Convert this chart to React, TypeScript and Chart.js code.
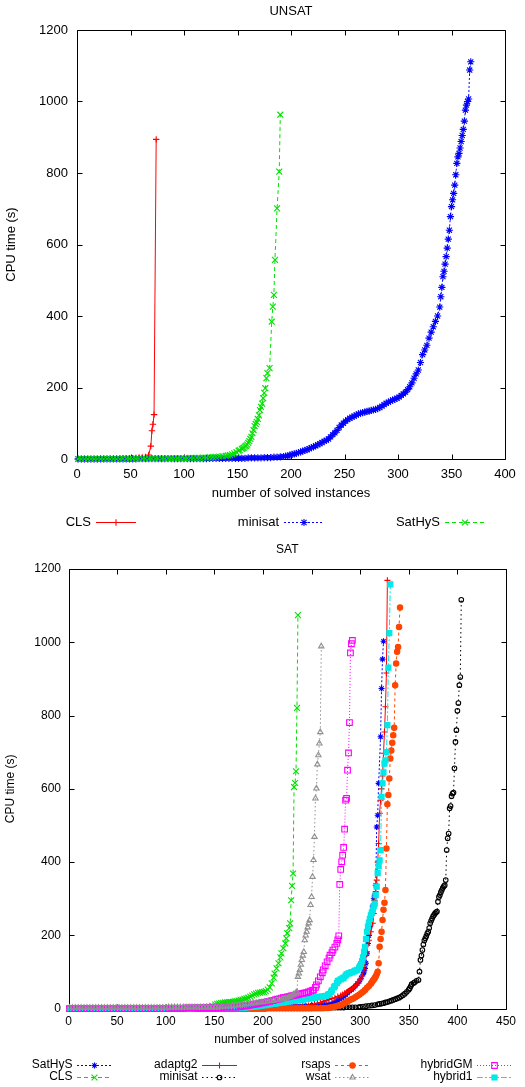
import React, { useEffect, useRef } from "react";
import { Chart, registerables } from "chart.js";

Chart.register(...registerables);

const FONT_FAMILY = '"Liberation Sans", Arial, Helvetica, sans-serif';

type Pt = [number, number];

// ---------------- tick labels ----------------
const unsatXTicks = [0, 50, 100, 150, 200, 250, 300, 350, 400];
const satXTicks = [0, 50, 100, 150, 200, 250, 300, 350, 400, 450];
const yTicks = [0, 200, 400, 600, 800, 1000, 1200];

// ---------------- UNSAT data ([solved instances, CPU time]) ----------------
const unsatCls: Pt[] = [
  [1, 0], [4, 0], [7, 0], [10, 0], [13, 0], [16, 0], [19, 0], [22, 1], [25, 1], [28, 1], [31, 1], [34, 1],
  [37, 1], [40, 1], [43, 2], [46, 2], [49, 2], [52, 2], [55, 3], [58, 4], [61, 4], [64, 6],
  [67, 11], [69, 36], [70, 79], [71, 97], [72, 124], [74, 894],
];

const unsatMinisat: Pt[] = [
  [1, 0], [4, 0], [7, 0], [10, 0], [13, 0], [16, 0], [19, 0], [22, 0], [25, 0], [28, 0], [31, 0], [34, 0],
  [37, 0], [40, 0], [43, 0], [46, 0], [49, 0], [52, 0], [55, 0],
  [58, 1], [61, 1], [64, 1], [67, 1], [70, 1], [73, 1], [76, 1], [79, 1], [82, 1], [85, 1], [88, 1], [91, 1],
  [94, 1], [97, 1], [100, 1], [103, 1], [106, 1], [109, 1], [112, 1], [115, 1], [118, 1], [121, 1],
  [124, 2], [127, 2], [130, 2], [133, 2], [136, 2], [139, 2], [142, 2], [145, 2], [148, 2], [151, 2], [154, 2],
  [157, 2], [160, 3], [163, 3], [166, 3], [169, 3], [172, 3], [175, 4], [178, 4], [181, 4], [184, 5], [187, 5],
  [190, 6], [193, 7], [195, 8], [197, 9], [199, 11], [201, 13], [203, 14], [205, 16], [207, 18], [209, 20],
  [211, 22], [213, 24], [215, 26], [217, 29], [219, 32], [221, 34], [223, 37], [225, 40], [227, 43], [229, 46],
  [231, 50], [233, 52], [235, 56], [237, 62], [239, 68], [241, 73], [243, 80], [245, 88], [247, 95], [249, 100],
  [251, 106], [253, 110], [255, 114], [257, 117], [259, 120], [261, 123], [263, 126], [265, 128], [267, 130],
  [269, 131], [271, 133], [273, 134], [275, 136], [277, 137], [279, 139], [281, 141], [283, 144], [285, 148],
  [287, 152], [289, 156], [291, 159], [293, 162], [295, 165], [297, 167], [299, 170], [301, 173], [303, 178],
  [305, 182], [307, 187], [309, 194], [311, 202], [313, 213], [315, 226], [317, 238], [319, 249], [321, 270],
  [323, 292], [325, 305], [327, 318], [329, 338], [331, 355], [333, 370], [335, 385], [337, 400], [339, 425],
  [340, 454], [341, 480], [342, 510], [343, 525], [344, 545], [345, 566], [346, 590], [347, 615], [348, 640],
  [349, 678], [350, 706], [351, 725], [352, 743], [353, 766], [354, 795], [355, 827], [356, 845], [357, 855],
  [358, 870], [359, 888], [360, 905], [361, 922], [362, 945], [363, 976], [364, 990], [365, 1000], [366, 1007],
  [367, 1088], [368, 1111],
];

const unsatSathys: Pt[] = [
  [1, 0], [4, 0], [7, 0], [10, 0], [13, 0], [16, 0], [19, 0], [22, 0], [25, 0], [28, 0], [31, 0], [34, 0],
  [37, 0], [40, 0], [43, 1], [46, 1], [49, 1], [52, 1], [55, 1], [58, 1], [61, 1], [64, 1], [67, 1], [70, 1],
  [73, 1], [76, 1], [79, 1], [82, 1], [85, 2], [88, 2], [91, 2], [94, 2], [97, 2], [100, 2], [103, 2], [106, 3],
  [109, 3], [112, 3], [115, 3], [118, 4], [121, 4], [124, 5], [127, 5], [130, 6], [133, 7], [136, 8], [139, 9],
  [141, 10], [143, 11], [145, 13], [147, 16], [149, 19], [151, 23], [152, 25], [154, 28], [155, 30], [156, 32],
  [157, 35], [158, 37], [159, 40], [160, 45], [161, 50], [162, 56], [163, 62], [164, 72], [165, 81], [166, 92],
  [167, 98], [168, 104], [169, 112], [170, 122], [171, 137], [172, 146], [173, 155], [174, 170], [175, 185],
  [176, 198], [177, 226], [178, 240], [180, 254], [182, 384], [183, 426], [184, 459], [185, 557], [187, 701],
  [189, 804], [190, 963],
];

// ---------------- SAT data ----------------
const satSathys: Pt[] = [
  [1, 0], [4, 0], [7, 0], [10, 0], [13, 0], [16, 0], [19, 0], [22, 0], [25, 0], [28, 0], [31, 0], [34, 0],
  [37, 0], [40, 0], [43, 0], [46, 0], [49, 0], [52, 0], [55, 0], [58, 0], [61, 0], [64, 0], [67, 0],
  [70, 1], [73, 1], [76, 1], [79, 1], [82, 1], [85, 1], [88, 1], [91, 1], [94, 1], [97, 1], [100, 1], [103, 1],
  [106, 1], [109, 1], [112, 1], [115, 1], [118, 1], [121, 1], [124, 1], [127, 1], [130, 1], [133, 1], [136, 1],
  [139, 1], [142, 1], [145, 1], [148, 1], [151, 1], [154, 1], [157, 1], [160, 1], [163, 1], [166, 1], [169, 1],
  [172, 1], [175, 1], [178, 1], [181, 2], [184, 2], [187, 2], [190, 2], [193, 2], [196, 2], [199, 2],
  [201, 2], [203, 2], [205, 2], [207, 2], [209, 2], [211, 3], [213, 3], [215, 3], [217, 3], [219, 3], [221, 4],
  [223, 4], [225, 4], [227, 4], [229, 4], [231, 5], [233, 5], [235, 5], [237, 5], [239, 5], [241, 6], [243, 6],
  [245, 6], [247, 7], [249, 7], [251, 8], [253, 8], [255, 8], [257, 9], [259, 9], [261, 10], [263, 10],
  [265, 10], [267, 11], [269, 11], [271, 13], [273, 16], [275, 19], [277, 23], [279, 27], [281, 30], [283, 33],
  [285, 38], [287, 43], [289, 48], [291, 52], [293, 56], [295, 62], [297, 68], [299, 74], [301, 83], [303, 94],
  [304, 100], [305, 110], [306, 124], [307, 150], [308, 178], [309, 200], [310, 224], [311, 245], [312, 260],
  [313, 280], [314, 300], [315, 310], [316, 337], [317, 496], [318, 528], [319, 615], [321, 742], [322, 874],
  [323, 954], [324, 1003],
];

const satCls: Pt[] = [
  [1, 0], [4, 0], [7, 0], [10, 0], [13, 0], [16, 0], [19, 0], [22, 0], [25, 0], [28, 0], [31, 0], [34, 0],
  [37, 0], [40, 0], [43, 0], [46, 0], [49, 0], [52, 1], [55, 1], [58, 1], [61, 1], [64, 1], [67, 1], [70, 1],
  [73, 1], [76, 1], [79, 1], [82, 1], [85, 1], [88, 1], [91, 1], [94, 1], [97, 1], [100, 1], [103, 2], [106, 2],
  [109, 2], [112, 2], [115, 2], [118, 2], [121, 2], [124, 2], [127, 2], [130, 3], [133, 3], [136, 3], [139, 4],
  [142, 5], [145, 6], [148, 8], [151, 11], [153, 13], [155, 14], [157, 15], [159, 16], [161, 17], [163, 17],
  [165, 18], [167, 18], [169, 19], [171, 20], [173, 21], [175, 22], [177, 24], [179, 25], [181, 27], [183, 28],
  [185, 30], [187, 33], [189, 36], [191, 39], [193, 41], [195, 43], [197, 44], [199, 45], [201, 46], [203, 48],
  [205, 52], [207, 58], [209, 69], [211, 85], [212, 96], [214, 110], [216, 124], [218, 140], [219, 151],
  [221, 165], [223, 178], [224, 192], [225, 206], [227, 220], [228, 233], [229, 296], [230, 335], [231, 369],
  [232, 605], [233, 616], [234, 648], [235, 821], [236, 1074],
];

const satAdaptg2: Pt[] = [
  [1, 0], [4, 0], [7, 0], [10, 0], [13, 0], [16, 0], [19, 0], [22, 0], [25, 0], [28, 0], [31, 0], [34, 0],
  [37, 0], [40, 0], [43, 0], [46, 0], [49, 0], [52, 0], [55, 0], [58, 0], [61, 0], [64, 0], [67, 0], [70, 0],
  [73, 0], [76, 0], [79, 0], [82, 0], [85, 0], [88, 0], [91, 0], [94, 0], [97, 0], [100, 0], [103, 1], [106, 1],
  [109, 1], [112, 1], [115, 1], [118, 1], [121, 1], [124, 1], [127, 1], [130, 1], [133, 1], [136, 1], [139, 1],
  [142, 1], [145, 1], [148, 1], [151, 1], [154, 1], [157, 1], [160, 1], [163, 1], [166, 1], [169, 1], [172, 1],
  [175, 1], [178, 1], [181, 1], [184, 1], [187, 1], [190, 1], [193, 2], [196, 2], [199, 2], [202, 2], [205, 2],
  [208, 2], [211, 2], [214, 2], [217, 2], [220, 2], [223, 3], [226, 3], [229, 4], [232, 4], [235, 5], [238, 6],
  [241, 7], [244, 8], [247, 9], [250, 11], [253, 13], [256, 15], [259, 17], [262, 20], [265, 22], [268, 25],
  [271, 28], [274, 30], [277, 33], [280, 36], [282, 39], [284, 42], [286, 45], [288, 48], [290, 52], [292, 56],
  [294, 60], [296, 65], [298, 74], [300, 80], [302, 90], [304, 108], [305, 124], [307, 155], [309, 187],
  [311, 210], [313, 233], [314, 260], [315, 296], [316, 320], [317, 351], [318, 400], [319, 451], [320, 533],
  [321, 569], [322, 600], [323, 635], [324, 697], [325, 755], [326, 824], [327, 916], [328, 1169],
];

const satMinisat: Pt[] = [
  [1, 0], [4, 0], [7, 0], [10, 0], [13, 0], [16, 0], [19, 0], [22, 0], [25, 0], [28, 0], [31, 0], [34, 0],
  [37, 0], [40, 0], [43, 0], [46, 0], [49, 0], [52, 0], [55, 0], [58, 0], [61, 0], [64, 0], [67, 0], [70, 0],
  [73, 0], [76, 0], [79, 0], [82, 0], [85, 0], [88, 0], [91, 0], [94, 0], [97, 0], [100, 0], [103, 0], [106, 0],
  [109, 0], [112, 0], [115, 0], [118, 0], [121, 0], [124, 0], [127, 0], [130, 0], [133, 0], [136, 0], [139, 0],
  [142, 0], [145, 0], [148, 0], [151, 0], [154, 1], [157, 1], [160, 1], [163, 1], [166, 1], [169, 1], [172, 1],
  [175, 1], [178, 1], [181, 1], [184, 1], [187, 1], [190, 1], [193, 1], [196, 1], [199, 1], [202, 1], [205, 1],
  [208, 1], [211, 1], [214, 1], [217, 1], [220, 1], [223, 1], [226, 1], [229, 1], [232, 1], [235, 1], [238, 1],
  [241, 1], [244, 1], [247, 1], [250, 1], [253, 2], [256, 2], [259, 2], [262, 2], [265, 2], [268, 2], [271, 3],
  [274, 3], [277, 3], [280, 3], [283, 3], [286, 4], [289, 4], [292, 4], [295, 4], [298, 4], [300, 5],
  [303, 6], [306, 7], [309, 8], [312, 9], [315, 10], [318, 12], [320, 13], [322, 14], [324, 15], [326, 17],
  [328, 18], [330, 20], [332, 22], [334, 24], [336, 26], [338, 28], [340, 30], [342, 33], [344, 37], [346, 41],
  [348, 46], [350, 52], [351, 56], [352, 61], [353, 67], [355, 70], [356, 72], [358, 76], [360, 78], [361, 101],
  [362, 133], [363, 145], [364, 160], [365, 175], [366, 186], [367, 192], [368, 198], [369, 205], [370, 210],
  [371, 220], [372, 233], [373, 240], [374, 246], [375, 252], [376, 256], [377, 260], [378, 263], [379, 265],
  [380, 292], [381, 305], [382, 310], [383, 318], [384, 324], [385, 330], [386, 334], [387, 337], [388, 351],
  [389, 433], [390, 465], [391, 478], [392, 547], [393, 553], [394, 580], [395, 587], [396, 590], [397, 656],
  [398, 728], [399, 760], [400, 813], [401, 834], [402, 883], [403, 905], [404, 1116],
];

const satRsaps: Pt[] = [
  [1, 0], [4, 0], [7, 0], [10, 0], [13, 0], [16, 0], [19, 0], [22, 0], [25, 0], [28, 0], [31, 0], [34, 0],
  [37, 0], [40, 0], [43, 0], [46, 0], [49, 0], [52, 0], [55, 0], [58, 0], [61, 0], [64, 0], [67, 0], [70, 0],
  [73, 0], [76, 0], [79, 0], [82, 0], [85, 0], [88, 0], [91, 0], [94, 0], [97, 0], [100, 0], [103, 0], [106, 0],
  [109, 0], [112, 0], [115, 0], [118, 0], [121, 0], [124, 0], [127, 0], [130, 0], [133, 0], [136, 0], [139, 0],
  [142, 0], [145, 0], [148, 0], [151, 0], [154, 0], [157, 0], [160, 0], [163, 0], [166, 0], [169, 0], [172, 0],
  [175, 0], [178, 0], [181, 0], [184, 0], [187, 0], [190, 0], [193, 0], [196, 0], [199, 0], [202, 0], [205, 1],
  [208, 1], [211, 1], [214, 1], [217, 1], [220, 1], [223, 1], [226, 1], [229, 1], [232, 1], [235, 1], [238, 1],
  [241, 1], [244, 1], [247, 1], [250, 1], [253, 1], [256, 1], [259, 1], [262, 1], [265, 2], [267, 2], [269, 3],
  [271, 4], [273, 5], [275, 6], [277, 8], [279, 9], [281, 11], [283, 14], [285, 17], [287, 20], [289, 23],
  [291, 26], [293, 28], [295, 31], [297, 35], [299, 38], [301, 42], [303, 46], [305, 51], [307, 57], [309, 62],
  [311, 68], [312, 72], [313, 76], [314, 80], [315, 84], [316, 88], [317, 94], [318, 101], [319, 124],
  [320, 169], [321, 190], [322, 210], [323, 242], [324, 270], [325, 289], [326, 324], [327, 437], [328, 558],
  [329, 583], [330, 628], [331, 683], [332, 705], [333, 726], [334, 746], [335, 767], [336, 883], [337, 942],
  [338, 974], [339, 987], [340, 1042], [341, 1095],
];

const satWsat: Pt[] = [
  [1, 3], [4, 3], [7, 3], [10, 3], [13, 3], [16, 3], [19, 3], [22, 3], [25, 3], [28, 3], [31, 3], [34, 3],
  [37, 3], [40, 3], [43, 3], [46, 3], [49, 3], [52, 3], [55, 3], [58, 3], [61, 3], [64, 3], [67, 3], [70, 3],
  [73, 3], [76, 3], [79, 3], [82, 3], [85, 3], [88, 3], [91, 3], [94, 3], [97, 3], [100, 3], [103, 4], [106, 4],
  [109, 4], [112, 4], [115, 4], [118, 4], [121, 4], [124, 4], [127, 4], [130, 4], [133, 4], [136, 4], [139, 4],
  [142, 4], [145, 4], [148, 4], [151, 4], [154, 5], [157, 5], [160, 6], [163, 7], [166, 7], [169, 8], [172, 9],
  [175, 10], [178, 11], [181, 12], [184, 13], [187, 14], [190, 15], [193, 16], [196, 17], [199, 18], [202, 19],
  [205, 20], [208, 21], [211, 22], [214, 24], [217, 25], [220, 26], [222, 27], [224, 28], [226, 31], [228, 33],
  [230, 36], [232, 40], [234, 44], [235, 46], [236, 87], [237, 96], [238, 106], [239, 120], [240, 133],
  [241, 145], [242, 155], [243, 187], [244, 200], [245, 210], [246, 222], [247, 233], [248, 242], [249, 283],
  [250, 305], [251, 360], [252, 406], [253, 469], [254, 574], [255, 601], [256, 667], [257, 692], [258, 724],
  [259, 755], [260, 989],
];

const satHybridGM: Pt[] = [
  [1, 0], [4, 0], [7, 0], [10, 0], [13, 0], [16, 0], [19, 0], [22, 0], [25, 0], [28, 0], [31, 0], [34, 0],
  [37, 0], [40, 0], [43, 0], [46, 0], [49, 0], [52, 0], [55, 0], [58, 0], [61, 0], [64, 0], [67, 0], [70, 0],
  [73, 0], [76, 0], [79, 0], [82, 0], [85, 0], [88, 0], [91, 0], [94, 0], [97, 0], [100, 0], [103, 1], [106, 1],
  [109, 1], [112, 1], [115, 1], [118, 1], [121, 2], [124, 2], [127, 2], [130, 2], [133, 2], [136, 2], [139, 3],
  [142, 3], [145, 3], [148, 3], [151, 3], [154, 3], [157, 3], [160, 4], [163, 4], [166, 4], [169, 4], [172, 4],
  [175, 5], [177, 6], [179, 7], [181, 8], [183, 8], [185, 9], [187, 10], [189, 11], [191, 12], [193, 13],
  [195, 13], [197, 15], [199, 16], [201, 17], [203, 18], [205, 19], [207, 20], [209, 22], [211, 23], [213, 25],
  [215, 26], [217, 27], [219, 29], [221, 30], [223, 31], [225, 32], [227, 33], [229, 35], [231, 36], [233, 37],
  [235, 38], [237, 39], [239, 41], [241, 42], [243, 43], [245, 44], [247, 46], [249, 48], [251, 50], [252, 51],
  [254, 58], [255, 65], [257, 76], [259, 87], [261, 98], [262, 106], [264, 117], [266, 128], [268, 138],
  [269, 146], [271, 153], [272, 160], [274, 168], [276, 178], [277, 188], [278, 199], [279, 339], [280, 380],
  [281, 401], [282, 419], [283, 440], [284, 490], [285, 569], [286, 574], [287, 651], [288, 698], [289, 781],
  [290, 971], [291, 996], [292, 1005],
];

const satHybrid1: Pt[] = [
  [1, 0], [4, 0], [7, 0], [10, 0], [13, 0], [16, 0], [19, 0], [22, 0], [25, 0], [28, 0], [31, 0], [34, 0],
  [37, 0], [40, 0], [43, 0], [46, 0], [49, 0], [52, 0], [55, 0], [58, 0], [61, 0], [64, 0], [67, 0], [70, 0],
  [73, 0], [76, 0], [79, 0], [82, 0], [85, 0], [88, 0], [91, 0], [94, 0], [97, 0], [100, 0], [103, 1], [106, 1],
  [109, 1], [112, 1], [115, 1], [118, 1], [121, 1], [124, 1], [127, 1], [130, 2], [133, 2], [136, 2], [139, 2],
  [142, 2], [145, 2], [148, 2], [151, 2], [154, 3], [157, 3], [160, 3], [163, 3], [166, 3], [169, 3], [172, 3],
  [175, 3], [178, 3], [181, 3], [183, 4], [185, 4], [187, 5], [189, 5], [191, 6], [193, 6], [195, 7], [197, 8],
  [199, 9], [201, 10], [203, 10], [205, 11], [207, 12], [209, 13], [211, 14], [213, 14], [215, 15], [217, 16],
  [219, 17], [221, 17], [223, 18], [225, 19], [227, 20], [229, 21], [231, 21], [233, 22], [235, 23], [237, 24],
  [239, 25], [241, 25], [243, 26], [245, 27], [247, 28], [249, 29], [251, 29], [253, 30], [255, 31], [257, 32],
  [259, 33], [261, 33], [263, 34], [265, 35], [267, 38], [268, 40], [270, 46], [271, 50], [273, 58], [274, 62],
  [276, 70], [277, 75], [278, 77], [280, 80], [282, 83], [283, 85], [285, 90], [286, 94], [288, 96], [289, 97],
  [291, 99], [292, 100], [294, 102], [295, 104], [297, 106], [299, 112], [300, 117], [301, 122], [302, 130],
  [303, 140], [304, 155], [305, 169], [306, 190], [307, 210], [308, 224], [309, 235], [310, 245], [311, 255],
  [312, 262], [313, 270], [314, 280], [315, 287], [316, 310], [317, 333], [318, 370], [319, 390], [320, 405],
  [321, 433], [322, 578], [323, 615], [324, 645], [325, 669], [326, 678], [327, 700], [328, 774], [329, 931],
  [330, 1025], [331, 1158],
];

// ---------------- styles ----------------
interface SeriesDef {
  label: string;
  data: Pt[];
  color: string;
  dash: number[];
  pointStyle: string;
  radius: number;
  filled: boolean;
  order: number;
}

const unsatSeries: SeriesDef[] = [
  { label: "CLS", data: unsatCls, color: "#ff0000", dash: [], pointStyle: "cross", radius: 3.2, filled: false, order: 3 },
  { label: "minisat", data: unsatMinisat, color: "#0000ff", dash: [2, 2], pointStyle: "star", radius: 3.6, filled: false, order: 2 },
  { label: "SatHyS", data: unsatSathys, color: "#00e000", dash: [4, 3], pointStyle: "crossRot", radius: 4.2, filled: false, order: 1 },
];

const satSeries: SeriesDef[] = [
  { label: "SatHyS", data: satSathys, color: "#0000ff", dash: [2, 2], pointStyle: "star", radius: 3, filled: false, order: 8 },
  { label: "CLS", data: satCls, color: "#00e000", dash: [4, 3], pointStyle: "crossRot", radius: 4.2, filled: false, order: 7 },
  { label: "adaptg2", data: satAdaptg2, color: "#ff0000", dash: [], pointStyle: "cross", radius: 3, filled: false, order: 6 },
  { label: "minisat", data: satMinisat, color: "#000000", dash: [1.5, 3], pointStyle: "circle", radius: 2.3, filled: false, order: 5 },
  { label: "rsaps", data: satRsaps, color: "#ff4500", dash: [3, 3], pointStyle: "circle", radius: 2.7, filled: true, order: 4 },
  { label: "wsat", data: satWsat, color: "#909090", dash: [1.5, 2.5], pointStyle: "triangle", radius: 3.1, filled: false, order: 1 },
  { label: "hybridGM", data: satHybridGM, color: "#ff00ff", dash: [1, 2], pointStyle: "rect", radius: 4, filled: false, order: 2 },
  { label: "hybrid1", data: satHybrid1, color: "#00e8e8", dash: [6, 2, 2, 2], pointStyle: "rect", radius: 3.6, filled: true, order: 3 },
];

// ---------------- drawing helpers ----------------
function drawMarker(
  ctx: CanvasRenderingContext2D,
  style: string,
  x: number,
  y: number,
  r: number,
  stroke: string,
  fill: string,
  lw: number
) {
  ctx.save();
  ctx.setLineDash([]);
  ctx.lineWidth = lw;
  ctx.strokeStyle = stroke;
  ctx.fillStyle = fill;
  const d = r * Math.SQRT1_2;
  ctx.beginPath();
  if (style === "cross" || style === "star") {
    ctx.moveTo(x - r, y);
    ctx.lineTo(x + r, y);
    ctx.moveTo(x, y - r);
    ctx.lineTo(x, y + r);
  }
  if (style === "crossRot" || style === "star") {
    ctx.moveTo(x - d, y - d);
    ctx.lineTo(x + d, y + d);
    ctx.moveTo(x - d, y + d);
    ctx.lineTo(x + d, y - d);
  }
  if (style === "circle") {
    ctx.arc(x, y, r, 0, Math.PI * 2);
    ctx.closePath();
    ctx.fill();
  }
  if (style === "triangle") {
    const a = (2 * Math.PI) / 3;
    ctx.moveTo(x, y - r);
    ctx.lineTo(x + Math.sin(a) * r, y - Math.cos(a) * r);
    ctx.lineTo(x + Math.sin(2 * a) * r, y - Math.cos(2 * a) * r);
    ctx.closePath();
    ctx.fill();
  }
  if (style === "rect") {
    ctx.rect(x - d, y - d, 2 * d, 2 * d);
    ctx.fill();
  }
  ctx.stroke();
  ctx.restore();
}

const gnuplotPlugin = {
  id: "gnuplot",
  beforeDatasetsDraw(chart: any, _args: any, opts: any) {
    const { ctx, chartArea: a } = chart;
    const L = Math.round(a.left) + 0.5;
    const R = Math.round(a.right) + 0.5;
    const T = Math.round(a.top) + 0.5;
    const B = Math.round(a.bottom) + 0.5;
    const tl = opts.tickLen;
    ctx.save();
    ctx.strokeStyle = "#000";
    ctx.lineWidth = 1;
    ctx.setLineDash([]);
    ctx.beginPath();
    ctx.rect(L, T, R - L, B - T);
    const xs = chart.scales.x;
    const ys = chart.scales.y;
    xs.ticks.forEach((t: any) => {
      const px = Math.round(xs.getPixelForValue(t.value)) + 0.5;
      ctx.moveTo(px, B);
      ctx.lineTo(px, B - tl);
      ctx.moveTo(px, T);
      ctx.lineTo(px, T + tl);
    });
    ys.ticks.forEach((t: any) => {
      const py = Math.round(ys.getPixelForValue(t.value)) + 0.5;
      ctx.moveTo(L, py);
      ctx.lineTo(L + tl, py);
      ctx.moveTo(R, py);
      ctx.lineTo(R - tl, py);
    });
    ctx.stroke();
    ctx.restore();
  },
  afterDraw(chart: any, _args: any, opts: any) {
    const { ctx, chartArea: a } = chart;
    ctx.save();
    ctx.fillStyle = "#000";
    ctx.font = `${opts.fontSize}px ${FONT_FAMILY}`;
    ctx.textBaseline = "middle";
    ctx.textAlign = "center";
    ctx.fillText(opts.title, (a.left + a.right) / 2, opts.titleY);
    opts.legend.forEach((item: any) => {
      const ds = chart.data.datasets.find((d: any) => d.label === item.label);
      if (!ds) return;
      ctx.fillStyle = "#000";
      ctx.textAlign = "right";
      ctx.fillText(item.label, item.x - opts.legendGap, item.y);
      ctx.save();
      ctx.strokeStyle = ds.borderColor;
      ctx.lineWidth = 1;
      ctx.setLineDash(ds.borderDash || []);
      ctx.beginPath();
      ctx.moveTo(item.x, item.y + 0.5);
      ctx.lineTo(item.x + opts.sampleLen, item.y + 0.5);
      ctx.stroke();
      ctx.restore();
      drawMarker(
        ctx,
        ds.pointStyle,
        item.x + opts.sampleLen / 2,
        item.y + 0.5,
        ds.pointRadius,
        ds.pointBorderColor,
        ds.pointBackgroundColor,
        ds.pointBorderWidth
      );
    });
    ctx.restore();
  },
};

interface Geometry {
  width: number;
  height: number;
  padding: { top: number; right: number; bottom: number; left: number };
  yWidth: number;
  xHeight: number;
  fontSize: number;
  yTickPad: number;
  xTickPad: number;
  yTitlePad: number;
  xTitlePad: number;
  titleY: number;
  sampleLen: number;
  legendGap: number;
  legend: { label: string; x: number; y: number }[];
}

const unsatGeom: Geometry = {
  width: 525,
  height: 540,
  padding: { top: 30, right: 20, bottom: 39, left: 0 },
  yWidth: 77,
  xHeight: 42,
  fontSize: 13,
  yTickPad: 9,
  xTickPad: 8,
  yTitlePad: 4,
  xTitlePad: 0,
  titleY: 11,
  sampleLen: 40,
  legendGap: 5,
  legend: [
    { label: "CLS", x: 96, y: 522 },
    { label: "minisat", x: 284, y: 522 },
    { label: "SatHyS", x: 445, y: 522 },
  ],
};

const satGeom: Geometry = {
  width: 525,
  height: 547,
  padding: { top: 29, right: 19, bottom: 38.3, left: 0 },
  yWidth: 68.5,
  xHeight: 40,
  fontSize: 12,
  yTickPad: 7.5,
  xTickPad: 6,
  yTitlePad: 3,
  xTitlePad: 1.5,
  titleY: 10,
  sampleLen: 35,
  legendGap: 4.5,
  legend: [
    { label: "SatHyS", x: 77, y: 525 },
    { label: "CLS", x: 77, y: 537 },
    { label: "adaptg2", x: 202, y: 525 },
    { label: "minisat", x: 202, y: 537 },
    { label: "rsaps", x: 335, y: 525 },
    { label: "wsat", x: 335, y: 537 },
    { label: "hybridGM", x: 477, y: 525 },
    { label: "hybrid1", x: 477, y: 537 },
  ],
};

function makeConfig(title: string, series: SeriesDef[], xTicks: number[], g: Geometry): any {
  const font = { family: FONT_FAMILY, size: g.fontSize };
  const plain = (v: any) => String(v);
  return {
    type: "line",
    data: {
      datasets: series.map((s) => ({
        label: s.label,
        data: s.data.map(([x, y]) => ({ x, y })),
        borderColor: s.color,
        backgroundColor: s.color,
        borderWidth: 1,
        borderDash: s.dash,
        pointStyle: s.pointStyle,
        pointRadius: s.radius,
        pointHoverRadius: s.radius,
        pointBorderColor: s.color,
        pointBackgroundColor: s.filled ? s.color : "rgba(0,0,0,0)",
        pointBorderWidth: 1.1,
        fill: false,
        tension: 0,
        clip: false,
        order: s.order,
      })),
    },
    options: {
      responsive: false,
      animation: false,
      events: [],
      layout: { padding: g.padding },
      plugins: {
        legend: { display: false },
        tooltip: { enabled: false },
        title: { display: false },
        gnuplot: {
          title,
          titleY: g.titleY,
          fontSize: g.fontSize,
          tickLen: 5,
          sampleLen: g.sampleLen,
          legendGap: g.legendGap,
          legend: g.legend,
        },
      },
      scales: {
        x: {
          type: "linear",
          min: xTicks[0],
          max: xTicks[xTicks.length - 1],
          afterBuildTicks: (s: any) => {
            s.ticks = xTicks.map((v) => ({ value: v }));
          },
          afterFit: (s: any) => {
            s.height = g.xHeight;
          },
          grid: { display: false, drawTicks: false },
          border: { display: false },
          ticks: { font, color: "#000", padding: g.xTickPad, maxRotation: 0, autoSkip: false, callback: plain },
          title: {
            display: true,
            text: "number of solved instances",
            font,
            color: "#000",
            padding: { top: 0, bottom: g.xTitlePad },
          },
        },
        y: {
          type: "linear",
          min: yTicks[0],
          max: yTicks[yTicks.length - 1],
          afterBuildTicks: (s: any) => {
            s.ticks = yTicks.map((v) => ({ value: v }));
          },
          afterFit: (s: any) => {
            s.width = g.yWidth;
          },
          grid: { display: false, drawTicks: false },
          border: { display: false },
          ticks: { font, color: "#000", padding: g.yTickPad, autoSkip: false, callback: plain },
          title: {
            display: true,
            text: "CPU time (s)",
            font,
            color: "#000",
            padding: { top: g.yTitlePad, bottom: 0 },
          },
        },
      },
    },
    plugins: [gnuplotPlugin],
  };
}

function PlotCanvas({ config, g, top }: { config: any; g: Geometry; top: number }) {
  const ref = useRef<HTMLCanvasElement>(null);
  useEffect(() => {
    if (!ref.current) return;
    const chart = new Chart(ref.current, config);
    return () => chart.destroy();
  }, [config]);
  return (
    <canvas
      ref={ref}
      width={g.width}
      height={g.height}
      style={{ position: "absolute", left: 0, top, width: g.width, height: g.height, display: "block" }}
    />
  );
}

const unsatConfig = makeConfig("UNSAT", unsatSeries, unsatXTicks, unsatGeom);
const satConfig = makeConfig("SAT", satSeries, satXTicks, satGeom);

export default function App() {
  return (
    <div
      style={{
        position: "absolute",
        left: 0,
        top: 0,
        width: 525,
        height: 1087,
        background: "#fff",
        overflow: "hidden",
      }}
    >
      <PlotCanvas config={unsatConfig} g={unsatGeom} top={0} />
      <PlotCanvas config={satConfig} g={satGeom} top={540} />
    </div>
  );
}
